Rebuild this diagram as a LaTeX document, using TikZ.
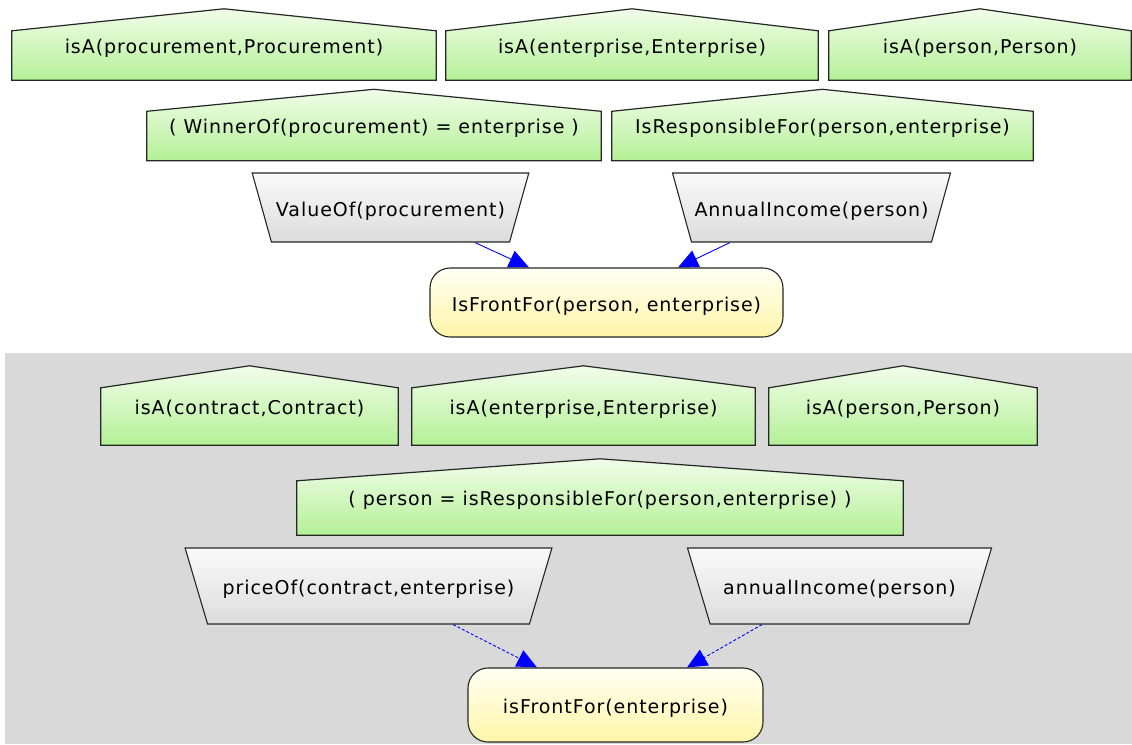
\documentclass[tikz,border=0pt]{standalone}
\usepackage{fontspec}
\setmainfont{DejaVu Sans}[LetterSpace=5]
\usetikzlibrary{shapes.geometric,arrows.meta,backgrounds}

\definecolor{factTop}{RGB}{241,253,234}
\definecolor{factBot}{RGB}{180,240,150}
\definecolor{termTop}{RGB}{250,250,250}
\definecolor{termBot}{RGB}{220,220,220}
\definecolor{goalTop}{RGB}{255,255,244}
\definecolor{goalBot}{RGB}{255,245,168}
\definecolor{edgeLine}{RGB}{36,40,36}
\definecolor{panelGray}{RGB}{217,217,217}

\tikzset{
  every node/.style={text height=22pt, text depth=5pt},
  fact/.style={minimum height=71pt, inner sep=0pt},
  term/.style={trapezium, trapezium stretches=true, trapezium angle=75,
    shape border rotate=180, inner xsep=0pt, inner ysep=21pt, minimum height=69pt,
    draw=edgeLine, line width=1.1pt, top color=termTop, bottom color=termBot},
  goal/.style={rectangle, rounded corners=20pt, inner sep=0pt,
    draw=edgeLine, line width=1.1pt, top color=goalTop, bottom color=goalBot},
  dep/.style={-{Triangle[length=20pt,width=18pt]}, blue, line width=0.9pt},
  weakdep/.style={dep, dash pattern=on 3pt off 2pt}
}

\begin{document}
\begin{tikzpicture}[x=1pt, y=-1pt, font=\fontsize{19}{23}\selectfont]
  \useasboundingbox (0,0) rectangle (1132,744);

  % first rule
  \node[fact, minimum width=424pt] (proc)   at (224,  44.5) {isA(procurement,Procurement)};
  \node[fact, minimum width=372pt] (entA)   at (632,  44.5) {isA(enterprise,Enterprise)};
  \node[fact, minimum width=302pt] (persA)  at (980,  44.5) {isA(person,Person)};
  \node[fact, minimum width=454pt] (winner) at (374,  125)  {( WinnerOf(procurement) = enterprise )};
  \node[fact, minimum width=421pt] (respA)  at (822.5,125)  {IsResponsibleFor(person,enterprise)};
  \node[term, minimum width=277pt] (value)  at (390.5,207.5) {ValueOf(procurement)};
  \node[term, minimum width=279pt] (income) at (811.5,207.5) {AnnualIncome(person)};
  \node[goal, minimum width=353pt, minimum height=69pt] (front) at (606.5,302.5) {IsFrontFor(person, enterprise)};

  % second rule
  \node[fact, minimum width=297pt, minimum height=79pt] (contr) at (249.5,405.5) {isA(contract,Contract)};
  \node[fact, minimum width=343pt, minimum height=79pt] (entB)  at (583.5,405.5) {isA(enterprise,Enterprise)};
  \node[fact, minimum width=268pt, minimum height=79pt] (persB) at (903,  405.5) {isA(person,Person)};
  \node[fact, minimum width=606pt, minimum height=76pt] (respB) at (600,  497)   {( person = isResponsibleFor(person,enterprise) )};
  \node[term, minimum width=367pt, minimum height=76pt, inner ysep=24.5pt] (price)   at (368.5,586) {priceOf(contract,enterprise)};
  \node[term, minimum width=305pt, minimum height=76pt, inner ysep=24.5pt] (incomeB) at (839.5,586) {annualIncome(person)};
  \node[goal, minimum width=295pt, minimum height=74pt] (frontB) at (615.5,705) {isFrontFor(enterprise)};

  \begin{scope}[on background layer]
    \fill[white] (0,0) rectangle (1132,744);
    \fill[panelGray] (5,353) rectangle (1132,744);
    \foreach \n in {proc,entA,persA,winner,respA,contr,entB,persB,respB}
      \shadedraw[top color=factTop, bottom color=factBot, draw=edgeLine, line width=1.2pt]
        (\n.south west) -- ([yshift=-22pt]\n.north west) -- (\n.north)
        -- ([yshift=-22pt]\n.north east) -- (\n.south east) -- cycle;
    \draw[dep] ([xshift=84.5pt]value.south) -- ([xshift=-77.5pt]front.north);
    \draw[dep] ([xshift=-81.5pt]income.south) -- ([xshift=71.5pt]front.north);
    \draw[weakdep] ([xshift=84.5pt]price.south) -- ([xshift=-78.5pt]frontB.north);
    \draw[weakdep] ([xshift=-77.5pt]incomeB.south) -- ([xshift=71.5pt]frontB.north);
  \end{scope}
\end{tikzpicture}
\end{document}
